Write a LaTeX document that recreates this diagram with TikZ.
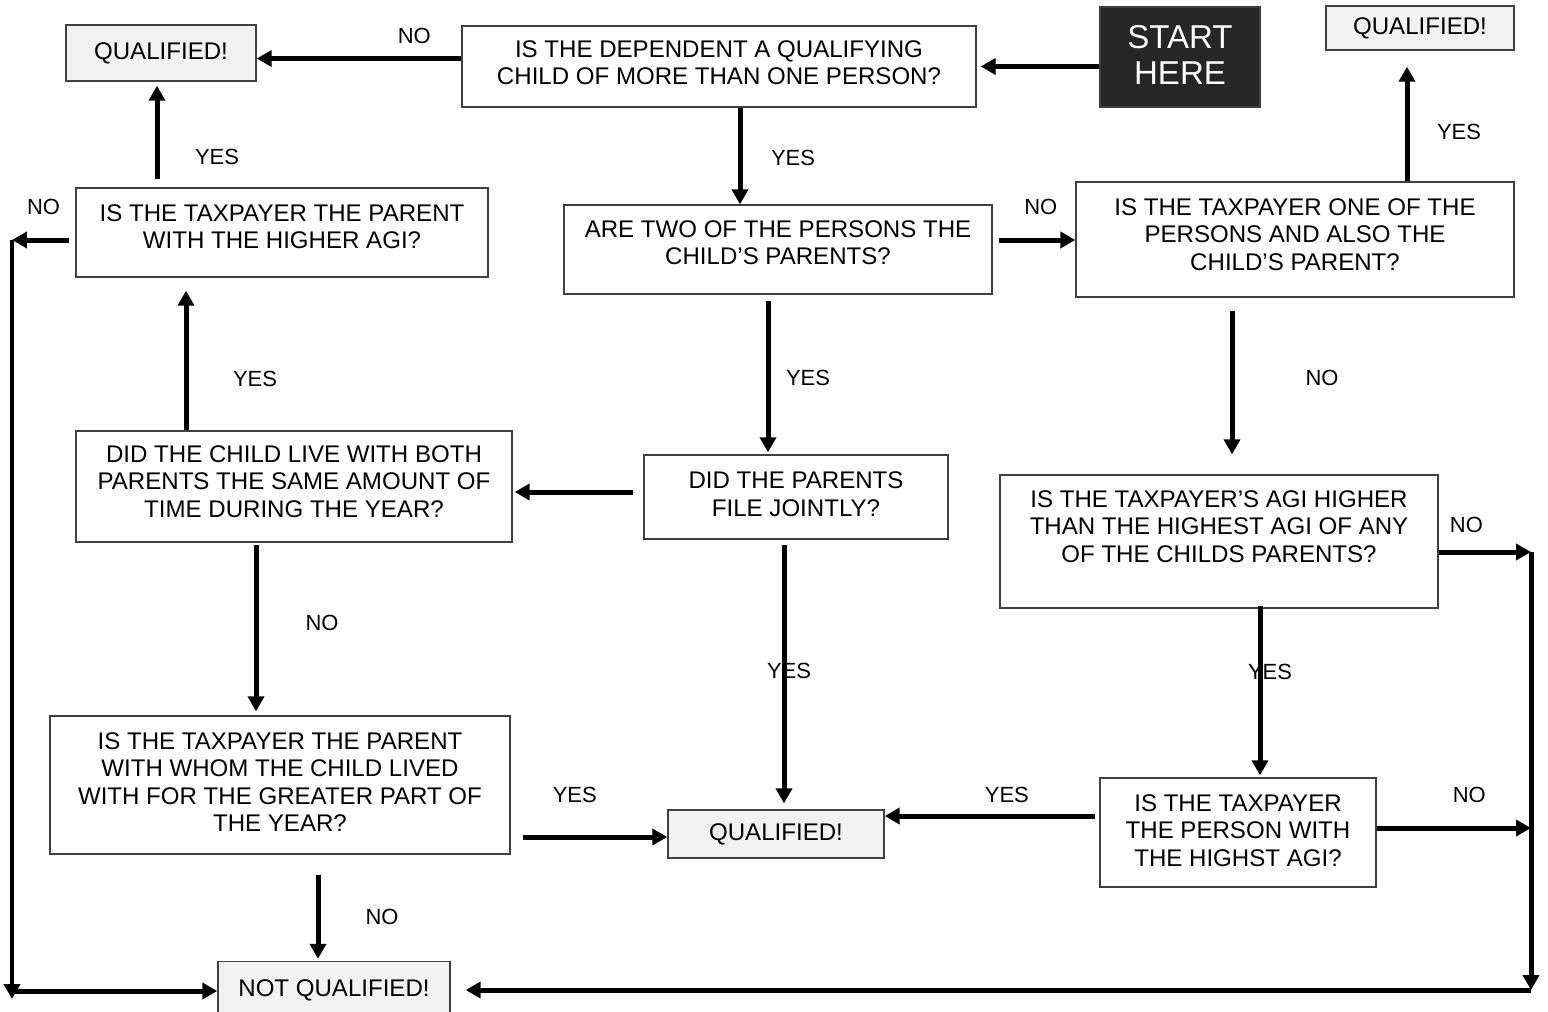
\documentclass[tikz,border=0pt]{standalone}
\usepackage{fontspec}
\setmainfont{Liberation Sans}
\usetikzlibrary{arrows.meta,calc}

\begin{document}
\begin{tikzpicture}[
    x = 0.02cm, y = -0.02cm,
    >={Triangle[length=0.3cm,width=0.32cm]},
    flow/.style = {->, line width=0.1cm},
    box/.style = {
      draw = black!75,
      line width = 0.8pt,
      align = center,
      inner sep = 0pt,
      font = \fontsize{13.7}{15.6}\selectfont
    },
    lift/.style = {execute at end node = {\rule[-#1]{0pt}{#1}}},
    qualbox/.style = {box, fill = black!5},
    startbox/.style = {
      box,
      fill = black!85,
      text = white,
      font = \fontsize{18.8}{21}\selectfont
    },
    lbl/.style = {inner sep = 0pt, font = \fontsize{12.5}{15}\selectfont}
  ]
  \useasboundingbox (0,0) rectangle (1548,1011);

  % questions and outcomes
  \node[qualbox, lift=2.3pt, minimum width=3.8cm, minimum height=1.12cm] (qualA) at (161,53) {QUALIFIED!};
  \node[box, lift=4.5pt, minimum width=10.28cm, minimum height=1.62cm] (dependent) at (719,66.5)
    {IS THE DEPENDENT A QUALIFYING\\CHILD OF MORE THAN ONE PERSON?};
  \node[startbox, lift=2.3pt, minimum width=3.2cm, minimum height=2cm] (start) at (1180,57) {START\\HERE};
  \node[qualbox, minimum width=3.76cm, minimum height=0.88cm] (qualB) at (1420,28) {QUALIFIED!};

  \node[box, lift=6.8pt, minimum width=8.24cm, minimum height=1.78cm] (higher) at (282,232.5)
    {IS THE TAXPAYER THE PARENT\\WITH THE HIGHER AGI?};
  \node[box, lift=7.9pt, minimum width=8.56cm, minimum height=1.78cm] (twoparents) at (778,249.5)
    {ARE TWO OF THE PERSONS THE\\CHILD’S PARENTS?};
  \node[box, lift=5.7pt, minimum width=8.76cm, minimum height=2.3cm] (oneof) at (1295,239.5)
    {IS THE TAXPAYER ONE OF THE\\PERSONS AND ALSO THE\\CHILD’S PARENT?};

  \node[box, lift=5.7pt, minimum width=8.72cm, minimum height=2.22cm] (bothparents) at (294,486.5)
    {DID THE CHILD LIVE WITH BOTH\\PARENTS THE SAME AMOUNT OF\\TIME DURING THE YEAR?};
  \node[box, lift=3.4pt, minimum width=6.08cm, minimum height=1.68cm] (jointly) at (796,497)
    {DID THE PARENTS\\FILE JOINTLY?};
  \node[box, lift=17pt, minimum width=8.76cm, minimum height=2.66cm] (agihigher) at (1219,541.5)
    {IS THE TAXPAYER’S AGI HIGHER\\THAN THE HIGHEST AGI OF ANY\\OF THE CHILDS PARENTS?};

  \node[box, lift=3.4pt, minimum width=9.2cm, minimum height=2.76cm] (livedwith) at (280,785)
    {IS THE TAXPAYER THE PARENT\\WITH WHOM THE CHILD LIVED\\WITH FOR THE GREATER PART OF\\THE YEAR?};
  \node[qualbox, minimum width=4.32cm, minimum height=0.96cm] (qualC) at (776,834) {QUALIFIED!};
  \node[box, lift=2.3pt, minimum width=5.52cm, minimum height=2.18cm] (highest) at (1238,832.5)
    {IS THE TAXPAYER\\THE PERSON WITH\\THE HIGHST AGI?};
  \node[qualbox, minimum width=4.64cm, minimum height=1.14cm] (notqual) at (334,990) {NOT QUALIFIED!};

  % corners of the outer return lines
  \coordinate (leftTop) at (12,240);
  \coordinate (leftBot) at (12,991);
  \coordinate (rightTop) at (1531,552);
  \coordinate (rightBot) at (1531,990);

  % connectors
  \draw[flow] (start.west |- dependent.east) -- ($(dependent.east)+(4,0)$);
  \draw[flow] ($(dependent.west)+(0,-8)$) coordinate (a) -- (a -| qualA.east)
    node[lbl, pos=0.23, yshift=0.46cm] {NO};
  \draw[flow] ($(dependent.south)+(21,0)$) coordinate (a) -- (a |- twoparents.north)
    node[lbl, pos=0.52, xshift=1.06cm] {YES};
  \draw[flow] ($(twoparents.east)+(6,-9.5)$) coordinate (a) -- (a -| oneof.west)
    node[lbl, pos=0.55, yshift=0.66cm] {NO};
  \draw[flow] ($(oneof.north)+(112,0)$) coordinate (a) -- ($(a |- qualB.south)+(0,16)$)
    node[lbl, pos=0.43, xshift=1.04cm] {YES};
  \draw[flow] ($(oneof.south)+(-63,13)$) coordinate (a) -- ($(a |- agihigher.north)+(0,-20)$)
    node[lbl, pos=0.47, xshift=1.8cm] {NO};
  \draw[flow] ($(twoparents.south)+(-10,6)$) coordinate (a) -- ($(a |- jointly.north)+(0,-2)$)
    node[lbl, pos=0.51, xshift=0.8cm] {YES};
  \draw[flow] ($(jointly.west)+(-10,-5)$) coordinate (a) -- ($(a -| bothparents.east)+(2,0)$);
  \draw[flow] ($(bothparents.north)+(-108,0)$) coordinate (a) -- ($(a |- higher.south)+(0,13)$)
    node[lbl, pos=0.37, xshift=1.38cm] {YES};
  \draw[flow] ($(higher.north)+(-125,-8)$) coordinate (a) -- ($(a |- qualA.south)+(0,4)$)
    node[lbl, pos=0.24, xshift=1.2cm] {YES};
  \draw[flow] ($(higher.west)+(-6,7.5)$) coordinate (a) -- (a -| leftTop)
    node[lbl, pos=0.45, yshift=0.66cm] {NO};
  \draw[flow] (leftTop) -- ($(leftBot)+(0,8)$);
  \draw[flow] (leftBot) -- (leftBot -| notqual.west);
  \draw[flow] ($(bothparents.south)+(-38,2)$) coordinate (a) -- ($(a |- livedwith.north)+(0,-4)$)
    node[lbl, pos=0.47, xshift=1.32cm] {NO};
  \draw[flow] ($(jointly.south)+(-12,5)$) coordinate (a) -- ($(a |- qualC.north)+(0,-6)$)
    node[lbl, pos=0.49, xshift=0.1cm] {YES};
  \draw[flow] ($(livedwith.east)+(12,52)$) coordinate (a) -- (a -| qualC.west)
    node[lbl, pos=0.36, yshift=0.84cm] {YES};
  \draw[flow] ($(livedwith.south)+(38,20)$) coordinate (a) -- ($(a |- notqual.north)+(0,-2)$)
    node[lbl, pos=0.5, xshift=1.28cm] {NO};
  \draw[flow] ($(agihigher.south)+(41,-3)$) coordinate (a) -- ($(a |- highest.north)+(0,-2)$)
    node[lbl, pos=0.39, xshift=0.2cm] {YES};
  \draw[flow] ($(highest.west)+(-4,-16.5)$) coordinate (a) -- (a -| qualC.east)
    node[lbl, pos=0.42, yshift=0.42cm] {YES};
  \draw[flow] ($(agihigher.east)+(0,10.5)$) coordinate (a) -- (a -| rightTop)
    node[lbl, pos=0.3, yshift=0.54cm] {NO};
  \draw[flow] ($(highest.east)+(0,-4.5)$) coordinate (a) -- (a -| rightTop)
    node[lbl, pos=0.6, yshift=0.66cm] {NO};
  \draw[flow] (rightTop) -- (rightBot);
  \draw[flow] (rightBot) -- ($(rightBot -| notqual.east)+(15,0)$);

\end{tikzpicture}
\end{document}
